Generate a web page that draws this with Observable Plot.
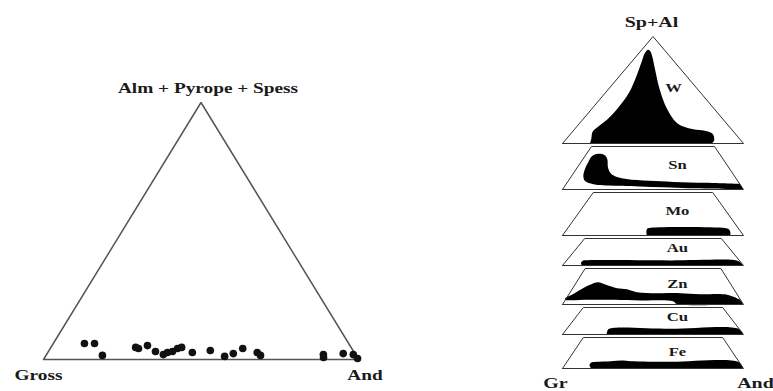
<!DOCTYPE html>
<html><head><meta charset="utf-8">
<script src="https://cdn.jsdelivr.net/npm/d3@7"></script>
<script src="https://cdn.jsdelivr.net/npm/@observablehq/plot@0.6"></script>
<style>
html,body{margin:0;padding:0;background:#fff;}
#wrap{display:flex;width:773px;height:391px;overflow:hidden;}
#wrap svg{display:block;flex:none;}
</style></head><body><div id="wrap"></div>
<script>
// ---------- DATA ----------
// Left ternary: garnet samples (percent And, percent Alm+Pyrope+Spess; Gross = rest)
const sampleAnd = [9.9,13.1,17.9,26.9,28.0,30.3,34.0,37.1,38.0,39.4,40.4,41.5,45.9,51.2,56.9,59.1,61.1,66.5,68.1,87.9,88.5,94.0,97.4,99.5];
const sampleAlm = [6.2,6.2,1.6,4.7,4.3,5.4,3.1,1.9,2.7,3.1,4.3,4.7,2.7,3.5,1.2,2.3,4.3,2.7,1.6,1.9,0.8,2.3,1.9,0.4];
const leftLabels = ["Alm + Pyrope + Spess", "Gross", "And"];

// Right: stacked slices of the Gr–And–(Sp+Al) diagram, top to bottom
const sliceNames = ["W","Sn","Mo","Au","Zn","Cu","Fe"];
const sliceSpAlTop = [1, 0.32, 0.34, 0.245, 0.25, 0.23, 0.23]; // Sp+Al level at the slice top
const rightLabels = ["Sp+Al", "Gr", "And"];
// Fields of each deposit type, as [position along Gr→And base, height within slice]
const fieldW  = [[0.155,0],[0.162,0.04],[0.168,0.1],[0.19,0.14],[0.25,0.22],[0.31,0.33],[0.37,0.47],[0.41,0.62],[0.44,0.76],[0.458,0.84],[0.472,0.87],[0.487,0.86],[0.5,0.8],[0.515,0.68],[0.54,0.5],[0.58,0.32],[0.64,0.18],[0.72,0.13],[0.8,0.11],[0.835,0.08],[0.84,0.02],[0.83,0]];
const fieldSn = [[1.0,0],[0.7,0.02],[0.431,0.06],[0.247,0.08],[0.173,0.111],[0.127,0.185],[0.118,0.296],[0.125,0.44],[0.145,0.62],[0.165,0.76],[0.2,0.82],[0.235,0.79],[0.25,0.7],[0.254,0.5],[0.268,0.37],[0.29,0.3],[0.357,0.23],[0.48,0.19],[0.615,0.165],[0.8,0.145],[0.983,0.12]];
const fieldMo = [[0.468,0],[0.466,0.08],[0.472,0.15],[0.49,0.17],[0.9,0.165],[0.92,0.14],[0.93,0.07],[0.93,0]];
const fieldAu = [[0.108,0],[0.105,0.08],[0.115,0.16],[0.14,0.175],[0.6,0.17],[0.965,0.17],[0.985,0.1],[1.0,0]];
const fieldZn = [[1.0,0],[0.635,0],[0.613,0.077],[0.431,0.1],[0.155,0.118],[0.017,0.123],[0.022,0.178],[0.055,0.26],[0.116,0.438],[0.155,0.534],[0.199,0.603],[0.243,0.534],[0.304,0.438],[0.359,0.411],[0.414,0.329],[0.525,0.301],[0.652,0.301],[0.762,0.274],[0.912,0.26],[0.983,0.123]];
const fieldCu = [[0.247,0],[0.25,0.1],[0.26,0.19],[0.6,0.19],[0.975,0.19],[1.0,0]];
const fieldFe = [[0.16,0],[0.152,0.08],[0.16,0.17],[0.19,0.2],[0.27,0.22],[0.33,0.24],[0.38,0.22],[0.6,0.2],[0.975,0.19],[1.0,0]];
const fields = [fieldW, fieldSn, fieldMo, fieldAu, fieldZn, fieldCu, fieldFe];

// ---------- LAYOUT ----------
const font = "Liberation Serif, Times New Roman, serif";
const stretch = 1.33;
const sliceHeights = [107, 43, 43, 27, 36, 27, 31];
const gap = 3;
const leftW = 460, rightW = 773 - leftW, H = 391;

// ---------- LEFT PANEL ----------
const samples = sampleAnd.map((a, i) => ({and: a / 100, alm: sampleAlm[i] / 100}));
const tri = [[0,0],[1,0],[0.5,1],[0,0]];
const leftAnchors = [{p:[0.5,1], dx:7, dy:-14.6}, {p:[0,0], dx:-5, dy:15.4}, {p:[1,0], dx:6.5, dy:15.4}];

const left = Plot.plot({
  width: leftW, height: H, margin: 0,
  x: {type: "linear", domain: [0, 1], range: [43, 358], axis: null},
  y: {type: "linear", domain: [0, 1], range: [359, 102], axis: null},
  marks: [
    Plot.line(tri, {x: d => d[0], y: d => d[1], stroke: "#555", strokeWidth: 1.5, strokeLinejoin: "miter"}),
    Plot.dot(samples, {x: d => d.and + d.alm / 2, y: d => d.alm, r: 3.8, fill: "#111", stroke: "none"}),
    ...leftLabels.map((t, i) => Plot.text([t], {
      x: () => leftAnchors[i].p[0], y: () => leftAnchors[i].p[1], text: d => d,
      dx: leftAnchors[i].dx, dy: leftAnchors[i].dy,
      fontSize: 14.5, fontWeight: "bold", fontFamily: font, fill: "#1a1a1a"
    }))
  ]
});

// ---------- RIGHT PANEL ----------
const n = sliceNames.length;
const bottoms = new Array(n);
let acc = 0;
for (let i = n - 1; i >= 0; i--) { bottoms[i] = acc; acc += sliceHeights[i] + (i > 0 ? gap : 0); }
const total = acc;
const toStack = (i, u, v) => ({x: u, y: bottoms[i] + v * sliceHeights[i]});

const outlines = [];
sliceNames.forEach((s, i) => {
  const ins = sliceSpAlTop[i] / 2;
  const pts = i === 0 ? [[0,0],[1,0],[0.5,1],[0,0]] : [[0,0],[1,0],[1-ins,1],[ins,1],[0,0]];
  pts.forEach(([u, v]) => outlines.push({slice: s, ...toStack(i, u, v)}));
});

const polys = [];
fields.forEach((f, i) => {
  const first = toStack(i, f[0][0], f[0][1]);
  f.forEach(([u, v]) => polys.push({slice: sliceNames[i], ...toStack(i, u, v), x0: first.x, y0: first.y}));
});

const sliceLabels = sliceNames.map((s, i) => ({s, ...toStack(i, i === 0 ? 0.613 : 0.635, i === 0 ? 0.52 : (i === 3 || i === 5 ? 0.63 : (i === 6 ? 0.52 : 0.58)))}));
const rightAnchors = [{p:[0.5,total], dx:-1.5, dy:-14.3}, {p:[0,0], dx:-7, dy:15}, {p:[1,0], dx:12, dy:15}];

const right = Plot.plot({
  width: rightW, height: H, margin: 0,
  x: {type: "linear", domain: [0, 1], range: [562 - leftW, 743 - leftW], axis: null},
  y: {type: "linear", domain: [0, total], range: [368, 36], axis: null},
  marks: [
    Plot.area(polys, {x1: "x", y1: "y", x2: "x0", y2: "y0", z: "slice", fill: "#000", curve: "catmull-rom"}),
    Plot.line(outlines, {x: "x", y: "y", z: "slice", stroke: "#333", strokeWidth: 1, strokeLinejoin: "miter"}),
    Plot.text(sliceLabels, {x: "x", y: "y", text: "s", fontSize: 12.5, fontWeight: "bold", fontFamily: font, fill: "#1a1a1a"}),
    ...rightLabels.map((t, i) => Plot.text([t], {
      x: () => rightAnchors[i].p[0], y: () => rightAnchors[i].p[1], text: d => d,
      dx: rightAnchors[i].dx, dy: rightAnchors[i].dy,
      fontSize: 15, fontWeight: "bold", fontFamily: font, fill: "#1a1a1a"
    }))
  ]
});

const wrap = document.getElementById("wrap");
wrap.appendChild(left);
wrap.appendChild(right);
document.querySelectorAll("#wrap svg text").forEach(t => {
  const w = t.getComputedTextLength();
  t.setAttribute("textLength", (w * stretch).toFixed(1));
  t.setAttribute("lengthAdjust", "spacingAndGlyphs");
});
</script></body></html>
